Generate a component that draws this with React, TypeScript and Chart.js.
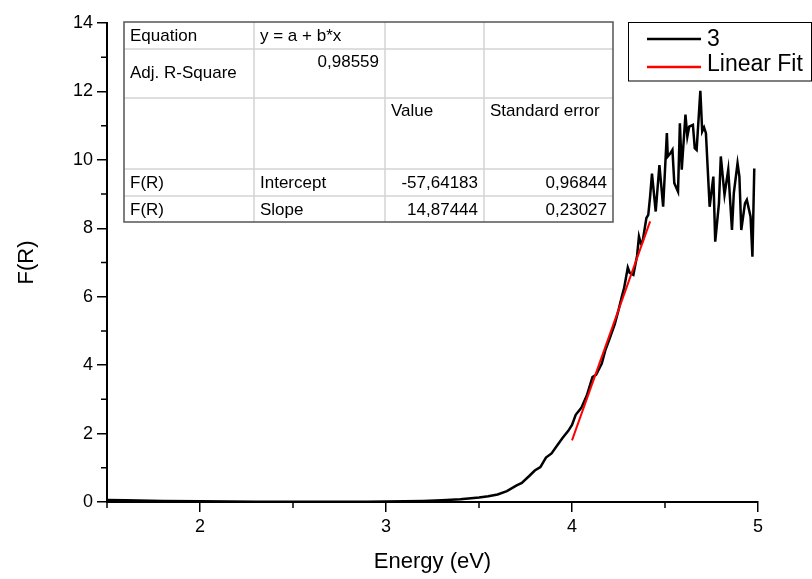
import React, { useEffect, useRef } from "react";
import { Chart, registerables } from "chart.js";

Chart.register(...registerables);

// ---- data ----
const energy = [
  1.5, 1.6, 1.8, 2.0, 2.3, 2.6, 2.9, 3.1, 3.2, 3.3, 3.4, 3.5, 3.55, 3.6, 3.65, 3.7, 3.73, 3.77, 3.8, 3.83,
  3.86, 3.89, 3.92, 3.95, 3.98, 4.0, 4.02, 4.05, 4.08, 4.11, 4.13, 4.16, 4.18, 4.2, 4.23, 4.25, 4.27, 4.28,
  4.3, 4.31, 4.33, 4.35, 4.36, 4.37, 4.38, 4.4, 4.41, 4.42, 4.43, 4.45, 4.47, 4.49, 4.51, 4.515, 4.53, 4.54,
  4.55, 4.57, 4.58, 4.59, 4.61, 4.62, 4.63, 4.65, 4.66, 4.67, 4.69, 4.7, 4.71, 4.72, 4.74, 4.76, 4.77, 4.79,
  4.8, 4.82, 4.84, 4.86, 4.87, 4.89, 4.9, 4.91, 4.93, 4.94, 4.96, 4.97, 4.98,
];
const fR = [
  0.06, 0.05, 0.03, 0.02, 0.01, 0.01, 0.01, 0.02, 0.03, 0.05, 0.08, 0.13, 0.17, 0.22, 0.32, 0.48, 0.56, 0.76, 0.92, 1.02,
  1.3, 1.42, 1.65, 1.88, 2.08, 2.25, 2.55, 2.75, 3.12, 3.65, 3.72, 4.05, 4.45, 4.74, 5.2, 5.61, 6.05, 6.25,
  6.85, 6.7, 6.64, 7.2, 7.76, 7.56, 7.62, 8.3, 8.39, 8.93, 9.6, 8.49, 9.85, 8.63, 10.78, 10.1, 10.2, 10.29,
  9.32, 9.07, 11.07, 9.71, 11.32, 10.68, 10.97, 11.02, 10.34, 10.29, 12.02, 10.83, 10.95, 10.78, 8.63, 9.51, 7.61, 8.73,
  10.1, 8.98, 9.71, 7.95, 9.03, 9.9, 9.51, 7.95, 8.73, 8.83, 8.34, 7.17, 9.75,
];
const fitEnergy = [4.0, 4.42];
const fitValues = [1.8, 8.2];

const seriesLabels = ["3", "Linear Fit"];
const xAxisTitle = "Energy (eV)";
const yAxisTitle = "F(R)";
const xMajorTicks = [2, 3, 4, 5];
const xMinorTicks = [1.5, 2.5, 3.5, 4.5];
const yMajorTicks = [0, 2, 4, 6, 8, 10, 12, 14];
const yMinorTicks = [1, 3, 5, 7, 9, 11, 13];

const tableHeaderRow1 = ["Equation", "y = a + b*x", "", ""];
const tableHeaderRow2 = ["Adj. R-Square", "0,98559", "", ""];
const tableHeaderRow3 = ["", "", "Value", "Standard error"];
const tableInterceptRow = ["F(R)", "Intercept", "-57,64183", "0,96844"];
const tableSlopeRow = ["F(R)", "Slope", "14,87444", "0,23027"];

// ---- layout / style ----
const FONT = "'Liberation Sans', Arial, sans-serif";
const TABLE_COLS = [124, 254, 385, 484, 613];
const TABLE_ROWS = [22, 49, 98, 169, 196, 222];

const minorTicksPlugin = {
  id: "minorTicks",
  afterDraw(chart: any) {
    const ctx = chart.ctx;
    const xs = chart.scales.x;
    const ys = chart.scales.y;
    const area = chart.chartArea;
    ctx.save();
    ctx.strokeStyle = "#000";
    ctx.lineWidth = 1.5;
    ctx.beginPath();
    xMinorTicks.forEach((v) => {
      const px = xs.getPixelForValue(v);
      ctx.moveTo(px, area.bottom);
      ctx.lineTo(px, area.bottom + 6);
    });
    yMinorTicks.forEach((v) => {
      const py = ys.getPixelForValue(v);
      ctx.moveTo(area.left, py);
      ctx.lineTo(area.left - 6, py);
    });
    ctx.stroke();
    ctx.restore();
  },
};

const tablePlugin = {
  id: "fitTable",
  afterDraw(chart: any) {
    const ctx = chart.ctx;
    const rows = [tableHeaderRow1, tableHeaderRow2, tableHeaderRow3, tableInterceptRow, tableSlopeRow];
    ctx.save();
    ctx.fillStyle = "#fff";
    ctx.fillRect(TABLE_COLS[0], TABLE_ROWS[0], TABLE_COLS[4] - TABLE_COLS[0], TABLE_ROWS[5] - TABLE_ROWS[0]);
    // inner lines
    ctx.strokeStyle = "#d4d4d4";
    ctx.lineWidth = 1.5;
    ctx.beginPath();
    for (let i = 1; i < TABLE_COLS.length - 1; i++) {
      ctx.moveTo(TABLE_COLS[i], TABLE_ROWS[0]);
      ctx.lineTo(TABLE_COLS[i], TABLE_ROWS[5]);
    }
    for (let j = 1; j < TABLE_ROWS.length - 1; j++) {
      ctx.moveTo(TABLE_COLS[0], TABLE_ROWS[j]);
      ctx.lineTo(TABLE_COLS[4], TABLE_ROWS[j]);
    }
    ctx.stroke();
    // outer border
    ctx.strokeStyle = "#555";
    ctx.lineWidth = 1.5;
    ctx.strokeRect(TABLE_COLS[0], TABLE_ROWS[0], TABLE_COLS[4] - TABLE_COLS[0], TABLE_ROWS[5] - TABLE_ROWS[0]);
    // text
    ctx.fillStyle = "#000";
    ctx.font = `17px ${FONT}`;
    ctx.textBaseline = "middle";
    rows.forEach((row, r) => {
      const top = TABLE_ROWS[r];
      const bottom = TABLE_ROWS[r + 1];
      const tall = bottom - top > 30;
      row.forEach((txt, c) => {
        if (!txt) return;
        const numeric = /^-?\d/.test(txt);
        const y = tall && c > 0 ? top + 13 : tall ? (top + bottom) / 2 : (top + bottom) / 2 + 1;
        if (numeric) {
          ctx.textAlign = "right";
          ctx.fillText(txt, TABLE_COLS[c + 1] - 6, y);
        } else {
          ctx.textAlign = "left";
          ctx.fillText(txt, TABLE_COLS[c] + 6, y);
        }
      });
    });
    ctx.restore();
  },
};

const legendPlugin = {
  id: "boxLegend",
  afterDraw(chart: any) {
    const ctx = chart.ctx;
    ctx.save();
    ctx.strokeStyle = "#000";
    ctx.lineWidth = 1;
    ctx.strokeRect(628.5, 22.5, 183, 58.5);
    const ys = [39, 67];
    chart.data.datasets.forEach((ds: any, i: number) => {
      ctx.strokeStyle = ds.borderColor;
      ctx.lineWidth = 2.5;
      ctx.beginPath();
      ctx.moveTo(647, ys[i]);
      ctx.lineTo(701, ys[i]);
      ctx.stroke();
      ctx.fillStyle = "#000";
      ctx.font = `23px ${FONT}`;
      ctx.textAlign = "left";
      ctx.textBaseline = "middle";
      ctx.fillText(ds.label, 707, ys[i] + (i === 1 ? -2 : 1));
    });
    ctx.restore();
  },
};

export default function App() {
  const ref = useRef<HTMLCanvasElement | null>(null);
  useEffect(() => {
    if (!ref.current) return;
    const chart = new Chart(ref.current, {
      type: "line",
      data: {
        datasets: [
          {
            label: seriesLabels[0],
            data: energy.map((x, i) => ({ x, y: fR[i] })),
            borderColor: "#000000",
            borderWidth: 2.5,
            pointRadius: 0,
            tension: 0,
            fill: false,
            order: 1,
          },
          {
            label: seriesLabels[1],
            data: fitEnergy.map((x, i) => ({ x, y: fitValues[i] })),
            borderColor: "#ff0000",
            borderWidth: 2,
            pointRadius: 0,
            tension: 0,
            fill: false,
            order: 0,
          },
        ],
      },
      options: {
        animation: false,
        responsive: false,
        maintainAspectRatio: false,
        devicePixelRatio: 1,
        layout: { padding: { top: 23, right: 54, left: 0, bottom: 0 } },
        plugins: { legend: { display: false }, tooltip: { enabled: false } },
        scales: {
          x: {
            type: "linear",
            min: 1.5,
            max: 5,
            afterBuildTicks: (s: any) => {
              s.ticks = xMajorTicks.map((v) => ({ value: v }));
            },
            afterFit: (s: any) => {
              s.height = 77;
            },
            grid: { drawOnChartArea: false, drawTicks: true, tickLength: 10, color: "#000", lineWidth: 1.5 },
            border: { display: true, color: "#000", width: 2 },
            ticks: {
              color: "#000",
              font: { family: FONT, size: 18 },
              padding: 4,
              maxRotation: 0,
              autoSkip: false,
              callback: (v: any) => String(v),
            },
            title: {
              display: true,
              text: xAxisTitle,
              color: "#000",
              font: { family: FONT, size: 22 },
              padding: { top: 0, bottom: 4 },
            },
          },
          y: {
            type: "linear",
            min: 0,
            max: 14,
            afterBuildTicks: (s: any) => {
              s.ticks = yMajorTicks.map((v) => ({ value: v }));
            },
            afterFit: (s: any) => {
              s.width = 107;
            },
            grid: { drawOnChartArea: false, drawTicks: true, tickLength: 10, color: "#000", lineWidth: 1.5 },
            border: { display: true, color: "#000", width: 2 },
            ticks: {
              color: "#000",
              font: { family: FONT, size: 18 },
              padding: 4,
              autoSkip: false,
              callback: (v: any) => String(v),
            },
            title: {
              display: true,
              text: yAxisTitle,
              color: "#000",
              font: { family: FONT, size: 22 },
              padding: { top: 14, bottom: 0 },
            },
          },
        },
      },
      plugins: [minorTicksPlugin, tablePlugin, legendPlugin],
    } as any);
    return () => chart.destroy();
  }, []);
  return (
    <div style={{ position: "absolute", left: 0, top: 0, width: 812, height: 579, background: "#fff" }}>
      <canvas ref={ref} width={812} height={579} style={{ display: "block", width: 812, height: 579 }} />
    </div>
  );
}
